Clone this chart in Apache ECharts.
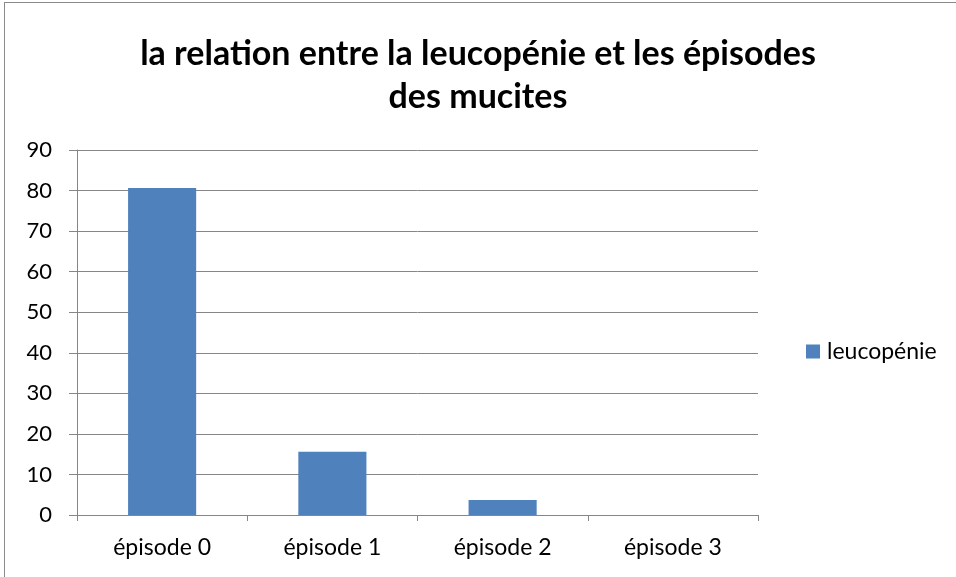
<!DOCTYPE html>
<html>
<head>
<meta charset="utf-8">
<script src="https://cdn.jsdelivr.net/npm/echarts@6/dist/echarts.min.js"></script>
<style>
  html, body { margin: 0; padding: 0; background: #fff; }
  #frame { position: absolute; left: 4px; top: 2px; width: 960px; height: 600px; border: 1px solid #8a8a8a; box-sizing: border-box; }
  #chart { position: absolute; left: 0; top: 0; width: 956px; height: 577px; }
</style>
</head>
<body>
<div id="frame"></div>
<div id="chart"></div>
<script>
var categories = ['épisode 0', 'épisode 1', 'épisode 2', 'épisode 3'];
var leucopenie = [80.6, 15.6, 3.7, 0];
var seriesName = 'leucopénie';

var font = 'Lato, "Open Sans", sans-serif';
var myChart = echarts.init(document.getElementById('chart'));

var option = {
    animation: false,
    title: {
        text: 'la relation entre la leucopénie et les épisodes\ndes mucites',
        left: 'center',
        top: 28,
        textStyle: {
            fontFamily: font,
            fontSize: 34,
            fontWeight: 'bold',
            color: '#000',
            lineHeight: 43
        }
    },
    legend: {
        data: [seriesName],
        orient: 'vertical',
        left: 801,
        top: 335,
        itemWidth: 14,
        itemHeight: 14,
        itemGap: 4,
        icon: 'rect',
        textStyle: { fontFamily: font, fontSize: 23, color: '#000', padding: [0, 0, 0, 2] }
    },
    grid: {
        left: 77,
        right: 198,
        top: 150,
        bottom: 62
    },
    xAxis: {
        type: 'category',
        data: categories,
        axisLine: { lineStyle: { color: '#868686', width: 1 } },
        axisTick: { show: true, length: 6, alignWithLabel: false, lineStyle: { color: '#868686' } },
        axisLabel: { fontFamily: font, fontSize: 23, color: '#000', margin: 21 }
    },
    yAxis: {
        type: 'value',
        min: 0,
        max: 90,
        interval: 10,
        axisLine: { show: true, lineStyle: { color: '#868686', width: 1 } },
        axisTick: { show: true, length: 8, lineStyle: { color: '#868686' } },
        axisLabel: { fontFamily: font, fontSize: 22, color: '#000', margin: 25 },
        splitLine: { lineStyle: { color: '#868686', width: 1 } }
    },
    series: [
        {
            name: seriesName,
            type: 'bar',
            data: leucopenie,
            barCategoryGap: '60%',
            itemStyle: { color: '#4f81bd' }
        }
    ]
};
myChart.setOption(option);
</script>
</body>
</html>
